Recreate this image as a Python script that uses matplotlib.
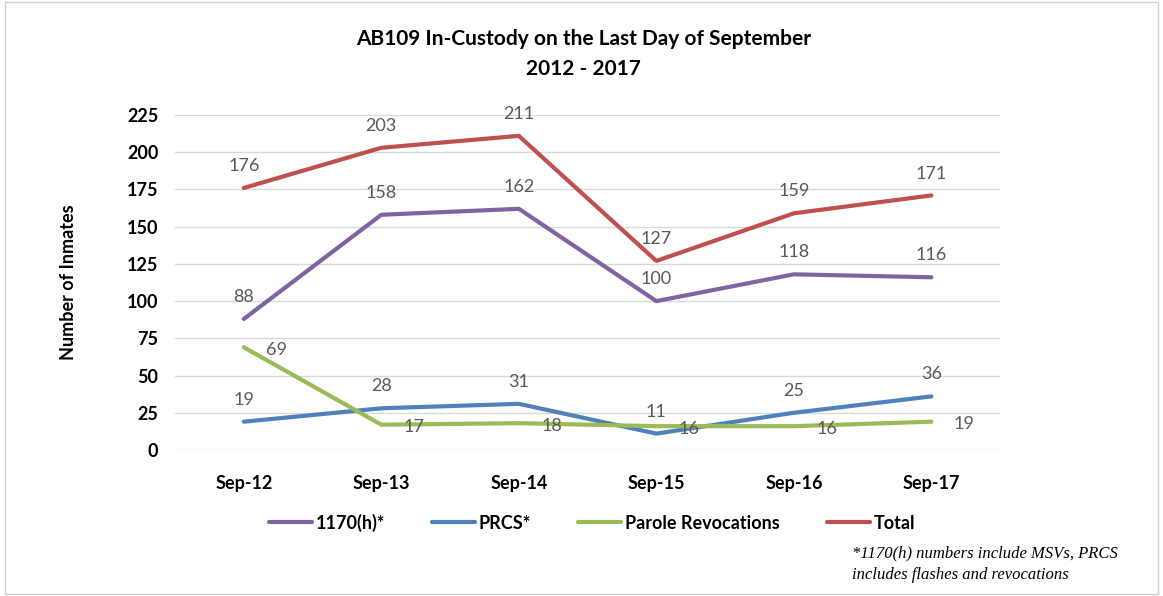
import matplotlib.pyplot as plt
from matplotlib.patches import Rectangle

years = ['Sep-12', 'Sep-13', 'Sep-14', 'Sep-15', 'Sep-16', 'Sep-17']
h1170 = [88, 158, 162, 100, 118, 116]
prcs = [19, 28, 31, 11, 25, 36]
parole = [69, 17, 18, 16, 16, 19]
total = [176, 203, 211, 127, 159, 171]

plt.rcParams['font.family'] = ['Lato', 'DejaVu Sans']

fig = plt.figure(figsize=(11.63, 5.96), dpi=100)
ax = fig.add_axes([0.1505, 0.245, 0.7095, 0.562])

x = list(range(len(years)))
series = [
    ('1170(h)*', h1170, '#8064A2', 'above'),
    ('PRCS*', prcs, '#4F81BD', 'above'),
    ('Parole Revocations', parole, '#9BBB59', 'right'),
    ('Total', total, '#C0504D', 'above'),
]
for name, vals, col, pos in series:
    ax.plot(x, vals, color=col, lw=3, label=name, solid_capstyle='round')
    for xi, v in zip(x, vals):
        if pos == 'above':
            ax.annotate(str(v), (xi, v), xytext=(0, 10), textcoords='offset points',
                        ha='center', va='bottom', fontsize=13, color='#595959')
        else:
            ax.annotate(str(v), (xi, v), xytext=(16, -2), textcoords='offset points',
                        ha='left', va='center', fontsize=13, color='#595959')

ax.set_xlim(-0.5, 5.5)
ax.set_ylim(0, 225)
ax.set_yticks(range(0, 226, 25))
ax.set_xticks(x)
ax.set_xticklabels(years)
ax.grid(axis='y', color='#D9D9D9', lw=1)
ax.set_axisbelow(True)
for s in ax.spines.values():
    s.set_visible(False)
ax.tick_params(length=0, labelsize=13, pad=12)
for lab in ax.get_xticklabels() + ax.get_yticklabels():
    lab.set_fontweight('bold')
ax.tick_params(axis='x', pad=18)
ax.set_ylabel('Number of Inmates', fontsize=13, fontweight='bold', labelpad=36)

fig.text(0.502, 0.935, 'AB109 In-Custody on the Last Day of September', ha='center',
         va='center', fontsize=15, fontweight='bold')
fig.text(0.502, 0.885, '2012 - 2017', ha='center', va='center', fontsize=15, fontweight='bold')

ax.legend(loc='center', bbox_to_anchor=(0.509, 0.123), bbox_transform=fig.transFigure,
          ncol=4, frameon=False, handlelength=2.4, columnspacing=2.6,
          handletextpad=0.2, prop={'weight': 'bold', 'size': 13})

fig.text(0.733, 0.054, '*1170(h) numbers include MSVs, PRCS\nincludes flashes and revocations',
         fontsize=12, style='italic', family='Liberation Serif', va='center', ha='left',
         linespacing=1.45)

fig.patches.append(Rectangle((0.004, 0.004), 0.992, 0.992, transform=fig.transFigure,
                             fill=False, edgecolor='#D0D0D0', lw=1))

fig.savefig('out.png', dpi=100)
